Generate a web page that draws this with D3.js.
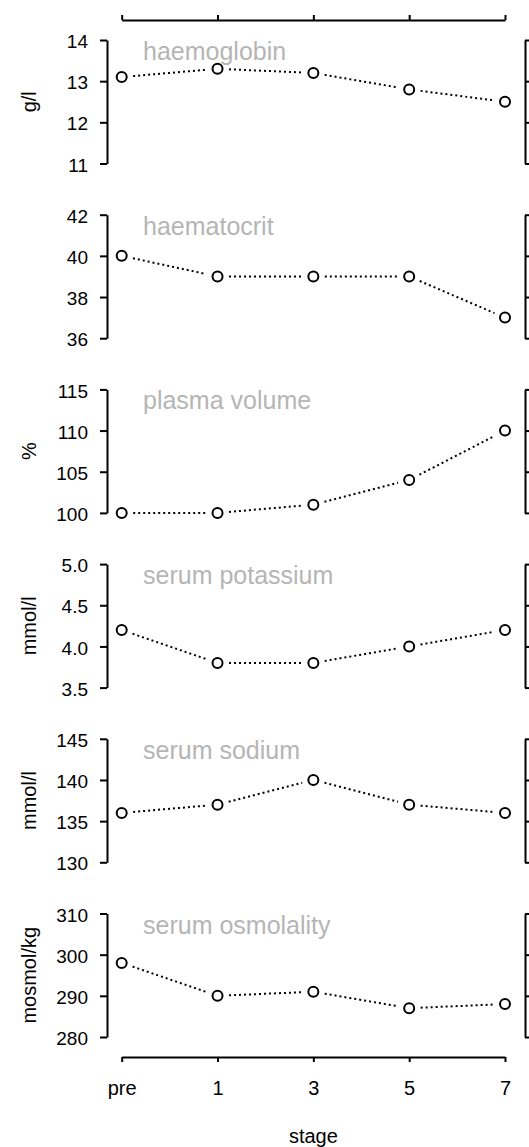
<!DOCTYPE html>
<html>
<head>
<meta charset="utf-8">
<script src="https://cdn.jsdelivr.net/npm/d3@7"></script>
<style>
  html, body { margin: 0; padding: 0; background: #fff; }
  svg { display: block; font-family: "Liberation Sans", Arial, sans-serif; }
</style>
</head>
<body>
<svg id="chart" width="529" height="1147"></svg>
<script>
// Stages on the shared x axis
const stages = ["pre", "1", "3", "5", "7"];

// One row per measured variable
const titles = ["haemoglobin", "haematocrit", "plasma volume", "serum potassium", "serum sodium", "serum osmolality"];
const units  = ["g/l", "", "%", "mmol/l", "mmol/l", "mosmol/kg"];

// Series values for each variable, one per stage
const haemoglobin     = [13.1, 13.3, 13.2, 12.8, 12.5];
const haematocrit     = [40, 39, 39, 39, 37];
const plasmaVolume    = [100, 100, 101, 104, 110];
const serumPotassium  = [4.2, 3.8, 3.8, 4.0, 4.2];
const serumSodium     = [136, 137, 140, 137, 136];
const serumOsmolality = [298, 290, 291, 287, 288];
const series = [haemoglobin, haematocrit, plasmaVolume, serumPotassium, serumSodium, serumOsmolality];

// Y tick labels per row
const yTicks = [
  [11, 12, 13, 14],
  [36, 38, 40, 42],
  [100, 105, 110, 115],
  [3.5, 4.0, 4.5, 5.0],
  [130, 135, 140, 145],
  [280, 290, 300, 310]
];
const yFormats = [d3.format("d"), d3.format("d"), d3.format("d"), d3.format(".1f"), d3.format("d"), d3.format("d")];

// Layout
const rowTop0 = 40, rowStep = 174.7, rowH = 123.5;
const leftAxisX = 107, rightAxisX = 525;
const topAxisY = 20, bottomAxisY = 1057;
const gap = 11.5; // space left open between line and marker

const svg = d3.select("#chart");

const x = d3.scalePoint().domain(stages).range([121.7, 505]);

function styleAxis(g) {
  g.selectAll("path.domain").attr("stroke", "#000").attr("stroke-width", 2);
  g.selectAll(".tick line").attr("stroke", "#000").attr("stroke-width", 2);
  g.selectAll(".tick text").attr("fill", "#000");
  g.attr("font-family", null);
}

// Top axis (ticks only)
svg.append("g")
  .attr("transform", `translate(0,${topAxisY})`)
  .call(d3.axisTop(x).tickSize(5).tickSizeOuter(0).tickFormat(""))
  .call(styleAxis);

// Bottom axis with stage labels
const bottom = svg.append("g")
  .attr("transform", `translate(0,${bottomAxisY})`)
  .call(d3.axisBottom(x).tickSize(5).tickSizeOuter(0).tickPadding(19))
  .call(styleAxis);
bottom.attr("font-size", 20);

svg.append("text")
  .attr("x", (x("pre") + x("7")) / 2)
  .attr("y", 1143)
  .attr("text-anchor", "middle")
  .attr("font-size", 20)
  .attr("fill", "#000")
  .text("stage");

series.forEach((vals, i) => {
  const top = rowTop0 + i * rowStep;
  const ticks = yTicks[i];
  const y = d3.scaleLinear()
    .domain([ticks[0], ticks[ticks.length - 1]])
    .range([top + rowH, top]);

  const row = svg.append("g");

  // Left axis with labels
  const left = row.append("g")
    .attr("transform", `translate(${leftAxisX},0)`)
    .call(d3.axisLeft(y).tickValues(ticks).tickFormat(yFormats[i])
      .tickSize(7).tickSizeOuter(0).tickPadding(12))
    .call(styleAxis);
  left.attr("font-size", 19);
  left.selectAll(".tick text").attr("dy", "0.4em");

  // Right axis (ticks only)
  row.append("g")
    .attr("transform", `translate(${rightAxisX},0)`)
    .call(d3.axisRight(y).tickValues(ticks).tickFormat("")
      .tickSize(7).tickSizeOuter(0))
    .call(styleAxis);

  // Unit label
  if (units[i]) {
    row.append("text")
      .attr("transform", `translate(36,${top + rowH / 2}) rotate(-90)`)
      .attr("text-anchor", "middle")
      .attr("font-size", 20)
      .attr("fill", "#000")
      .text(units[i]);
  }

  // Variable title
  row.append("text")
    .attr("x", 143)
    .attr("y", top + 20)
    .attr("font-size", 25)
    .attr("fill", "#b5b5b5")
    .text(titles[i]);

  // Points in pixel space
  const pts = vals.map((v, k) => [x(stages[k]), y(v)]);

  // Dotted connectors, cut short near each marker
  const segs = d3.pairs(pts).map(([a, b]) => {
    const dx = b[0] - a[0], dy = b[1] - a[1];
    const len = Math.hypot(dx, dy);
    const ux = dx / len, uy = dy / len;
    return [[a[0] + ux * gap, a[1] + uy * gap], [b[0] - ux * gap, b[1] - uy * gap]];
  });
  row.selectAll("line.conn").data(segs).join("line")
    .attr("class", "conn")
    .attr("x1", d => d[0][0]).attr("y1", d => d[0][1])
    .attr("x2", d => d[1][0]).attr("y2", d => d[1][1])
    .attr("stroke", "#000")
    .attr("stroke-width", 2)
    .attr("stroke-dasharray", "2,3");

  // Open circle markers
  row.selectAll("circle").data(pts).join("circle")
    .attr("cx", d => d[0]).attr("cy", d => d[1])
    .attr("r", 5)
    .attr("fill", "#fff")
    .attr("stroke", "#000")
    .attr("stroke-width", 2);
});
</script>
</body>
</html>
